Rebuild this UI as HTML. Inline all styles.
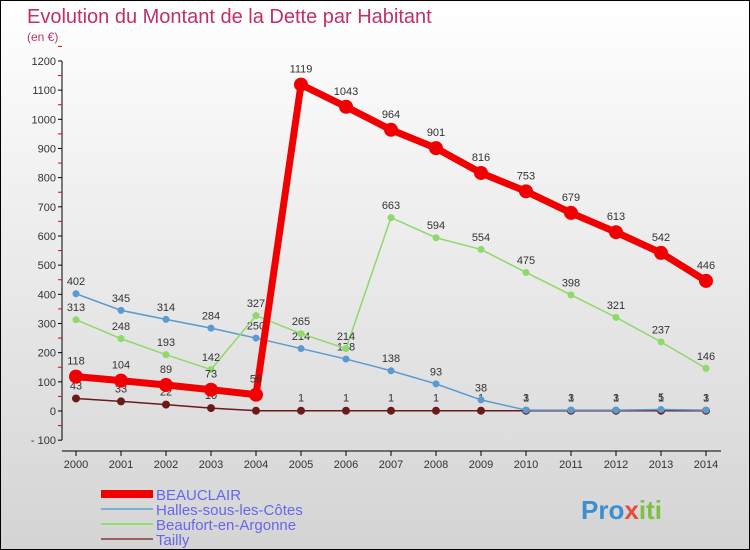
<!DOCTYPE html>
<html><head><meta charset="utf-8"><style>
body{margin:0}
#c{position:relative;width:748px;height:548px;border:1px solid #000;background:linear-gradient(#fff,#d4d4d4);font-family:"Liberation Sans",sans-serif;overflow:hidden}
</style></head><body>
<div id="c">
<svg id="s" width="748" height="548">
<text x="26" y="22" font-size="20" fill="#c0306a">Evolution du Montant de la Dette par Habitant</text>
<text x="26" y="40" font-size="12" fill="#c0306a">(en €)</text>
<g id="g"></g>
<text x="580" y="518" font-size="26" font-weight="bold" fill="#f39c12"><tspan fill="#3b8fd0">Pro</tspan><tspan fill="#e74c3c">x</tspan><tspan fill="#7cc242">iti</tspan></text>
</svg></div>
<script>
const years=[2000,2001,2002,2003,2004,2005,2006,2007,2008,2009,2010,2011,2012,2013,2014];
const beauclair=[118,104,89,73,56,1119,1043,964,901,816,753,679,613,542,446];
const halles=[402,345,314,284,250,214,178,138,93,38,3,3,3,5,3];
const beaufort=[313,248,193,142,327,265,214,663,594,554,475,398,321,237,146];
const tailly=[43,33,22,10,1,1,1,1,1,1,1,1,1,1,1];
const yTicks=[-100,0,100,200,300,400,500,600,700,800,900,1000,1100,1200];
const NS="http://www.w3.org/2000/svg",g=document.getElementById('g');
const X=i=>75+i*45, Y=v=>410-v*0.2917;
function el(t,a,p){const e=document.createElementNS(NS,t);for(const k in a)e.setAttribute(k,a[k]);(p||g).appendChild(e);return e;}
let ax=el('line',{x1:61,y1:Y(1200),x2:61,y2:Y(-100),stroke:'#000'});

let bx=el('line',{x1:61,y1:450,x2:720,y2:450,stroke:'#000'});

yTicks.forEach(v=>{el('line',{x1:57,x2:61,y1:Y(v),y2:Y(v),stroke:'#000'});
el('line',{x1:57,x2:61,y1:Y(v+50),y2:Y(v+50),stroke:'#e00'});
let t=el('text',{x:55,y:Y(v)+4,'font-size':11,fill:'#333','text-anchor':'end'});t.textContent=v<0?'- '+(-v):v;
});
years.forEach((y,i)=>{el('line',{x1:X(i),x2:X(i),y1:450,y2:455,stroke:'#000'});
let t=el('text',{x:X(i),y:467,'font-size':11,fill:'#333','text-anchor':'middle'});t.textContent=y;
});
function series(d,col,w,r,name,lbl){
let p=el('polyline',{points:d.map((v,i)=>X(i)+','+Y(v)).join(' '),fill:'none',stroke:col,'stroke-width':w});

d.forEach((v,i)=>{let c=el('circle',{cx:X(i),cy:Y(v),r:r,fill:col});

if(lbl){let t=el('text',{x:X(i),y:Y(v)-(r+5),'font-size':11,fill:'#333','text-anchor':'middle'});t.textContent=v;
}});}
series(tailly,'#6b1a1a',1.5,4,'tailly',true);
series(halles,'#5a9ad0',1.5,3.5,'halles',true);
series(beaufort,'#8fd86a',1.5,3.5,'beaufort',true);
series(beauclair,'#f00000',7,7,'beauclair',true);
const leg=[['BEAUCLAIR','#f00000',8],['Halles-sous-les-Côtes','#7fafd0',2],['Beaufort-en-Argonne','#90e070',2],['Tailly','#9a6060',2]];
leg.forEach((l,i)=>{let y=493+i*15;
let ln=el('line',{x1:100,x2:152,y1:y,y2:y,stroke:l[1],'stroke-width':l[2]});

let t=el('text',{x:155,y:y+6,'font-size':15,fill:'#6666ee'});t.textContent=l[0];
});
</script>
</body></html>
